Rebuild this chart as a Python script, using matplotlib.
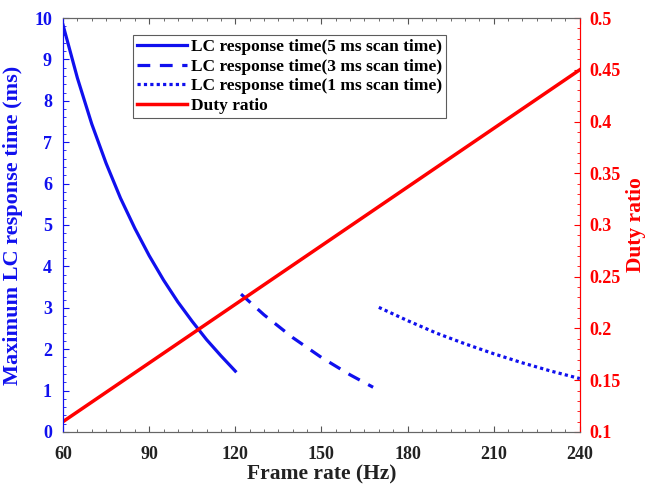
import matplotlib
matplotlib.use('Agg')
import matplotlib.pyplot as plt
from matplotlib.ticker import MultipleLocator

plt.rcParams['font.family'] = ['Liberation Serif', 'DejaVu Serif']
plt.rcParams['font.weight'] = 'bold'

# frame rate (Hz) and LC response time (ms)
f_5ms = [60, 65, 70, 75, 80, 85, 90, 95, 100, 105, 110, 115, 120]
t_5ms = [9.83, 8.55, 7.44, 6.49, 5.65, 4.92, 4.26, 3.67, 3.14, 2.67, 2.23, 1.84, 1.47]

f_3ms = [122, 130, 140, 150, 160, 168]
t_3ms = [3.33, 2.83, 2.28, 1.80, 1.38, 1.08]

f_1ms = [170, 180, 190, 200, 210, 220, 230, 240]
t_1ms = [3.01, 2.69, 2.39, 2.13, 1.89, 1.67, 1.47, 1.29]

f_duty = [60, 240]
duty = [0.11, 0.45]

duty_ticks = [0.1, 0.15, 0.2, 0.25, 0.3, 0.35, 0.4, 0.45, 0.5]
duty_labels = ['0.1', '0.15', '0.2', '0.25', '0.3', '0.35', '0.4', '0.45', '0.5']

blue = '#1010ee'
red = '#ff0000'

fig = plt.figure(figsize=(6.5, 4.87), dpi=100)
ax = fig.add_axes([0.097, 0.113, 0.795, 0.85])
ax2 = ax.twinx()

l1, = ax.plot(f_5ms, t_5ms, color=blue, lw=2.3, label='LC response time(5 ms scan time)')
l2, = ax.plot(f_3ms, t_3ms, color=blue, lw=2.3, ls=(0, (4, 3)), label='LC response time(3 ms scan time)')
l3, = ax.plot(f_1ms, t_1ms, color=blue, lw=2.3, ls=(0, (1, 1)), label='LC response time(1 ms scan time)')
l4, = ax2.plot(f_duty, duty, color=red, lw=2.5, label='Duty ratio')

ax.set_xlim(60, 240)
ax.set_ylim(0, 10)
ax2.set_ylim(0.1, 0.5)

ax.xaxis.set_major_locator(MultipleLocator(30))
ax.xaxis.set_minor_locator(MultipleLocator(5))
ax.yaxis.set_major_locator(MultipleLocator(1))
ax.yaxis.set_minor_locator(MultipleLocator(0.2))
ax2.yaxis.set_minor_locator(MultipleLocator(0.01))
ax2.set_yticks(duty_ticks)
ax2.set_yticklabels(duty_labels)

ax.tick_params(axis='x', which='both', direction='in', top=True, labelsize=13,
               colors='#555555', pad=10)
ax.tick_params(axis='x', labelcolor='#222222')
ax.tick_params(axis='y', which='both', direction='in', colors=blue, labelsize=13, pad=8)
ax2.tick_params(axis='y', which='both', direction='in', colors=red, labelsize=13, pad=7)
ax.tick_params(which='major', length=4)
ax.tick_params(which='minor', length=2)
ax2.tick_params(which='major', length=4)
ax2.tick_params(which='minor', length=2)

for a in (ax, ax2):
    a.spines['left'].set_color(blue)
    a.spines['right'].set_color(red)
    a.spines['top'].set_color('#666666')
    a.spines['bottom'].set_color('#666666')

ax.set_xlabel('Frame rate (Hz)', fontsize=15.5, fontweight='bold', color='#222222', labelpad=1)
ax.set_ylabel('Maximum LC response time (ms)', fontsize=16, fontweight='bold', color=blue, labelpad=8)
ax2.set_ylabel('Duty ratio', fontsize=15.5, fontweight='bold', color=red, labelpad=4)

leg = ax.legend(handles=[l1, l2, l3, l4], loc='upper left', bbox_to_anchor=(0.135, 0.96),
                fontsize=12.5, frameon=True, fancybox=False, handlelength=2.9,
                borderpad=0.25, labelspacing=0.2, handletextpad=0.2, borderaxespad=0)
leg.get_frame().set_edgecolor('#333333')
leg.get_frame().set_linewidth(0.8)
for t in leg.get_texts():
    t.set_fontweight('bold')

fig.savefig('out.png', dpi=100)
